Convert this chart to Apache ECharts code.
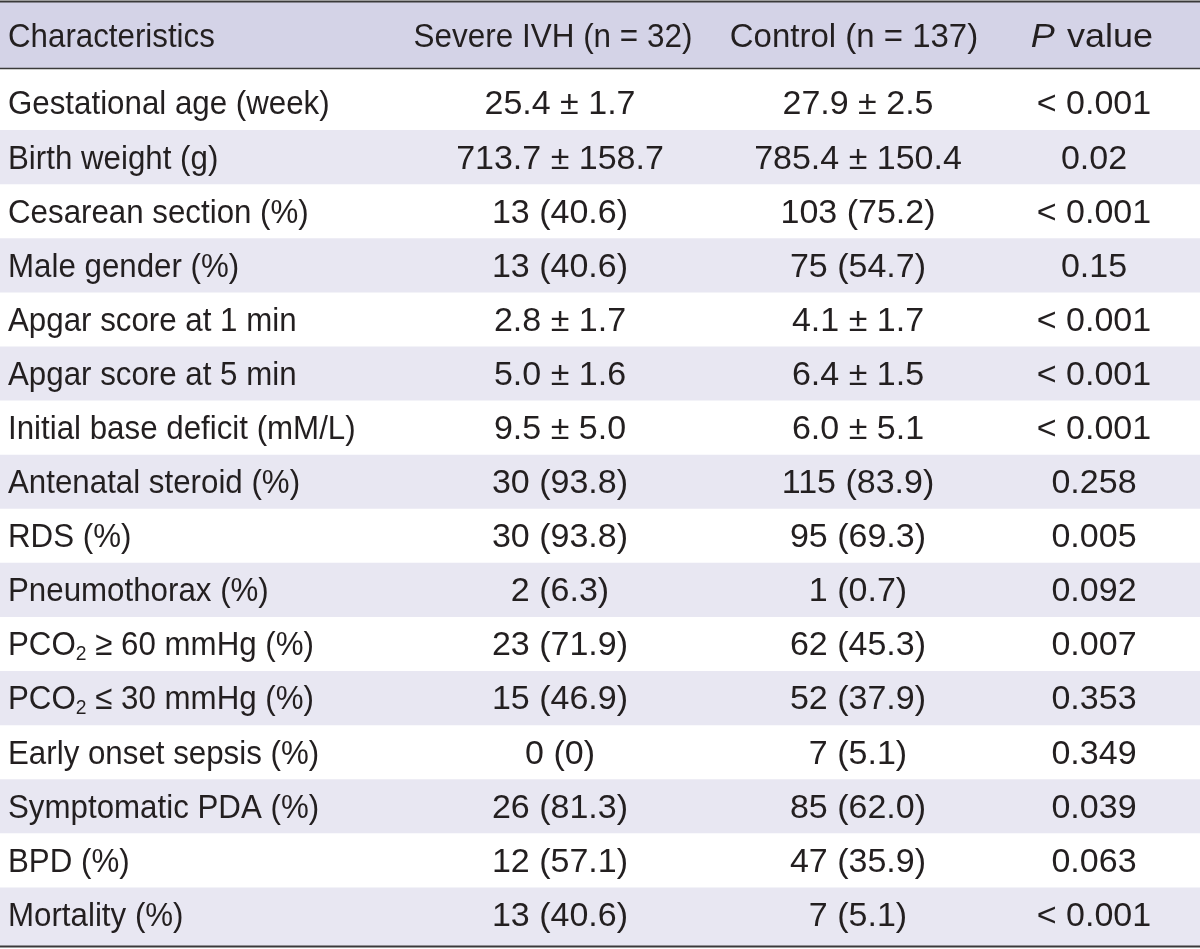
<!DOCTYPE html>
<html>
<head>
<meta charset="utf-8">
<script src="https://cdn.jsdelivr.net/npm/echarts@6/dist/echarts.min.js"></script>
<style>
html,body{margin:0;padding:0;background:#fff;}
#chart{width:1200px;height:949px;}
</style>
</head>
<body>
<div id="chart"></div>
<script>
// ---- Data ----
const headers = ['Characteristics', 'Severe IVH (n = 32)', 'Control (n = 137)', '{i|P} value'];
const characteristics = [
  'Gestational age (week)', 'Birth weight (g)', 'Cesarean section (%)', 'Male gender (%)',
  'Apgar score at 1 min', 'Apgar score at 5 min', 'Initial base deficit (mM/L)',
  'Antenatal steroid (%)', 'RDS (%)', 'Pneumothorax (%)', 'PCO₂ ≥ 60 mmHg (%)',
  'PCO₂ ≤ 30 mmHg (%)', 'Early onset sepsis (%)', 'Symptomatic PDA (%)', 'BPD (%)', 'Mortality (%)'
];
const severeIVH = [
  '25.4 ± 1.7', '713.7 ± 158.7', '13 (40.6)', '13 (40.6)', '2.8 ± 1.7', '5.0 ± 1.6',
  '9.5 ± 5.0', '30 (93.8)', '30 (93.8)', '2 (6.3)', '23 (71.9)', '15 (46.9)',
  '0 (0)', '26 (81.3)', '12 (57.1)', '13 (40.6)'
];
const control = [
  '27.9 ± 2.5', '785.4 ± 150.4', '103 (75.2)', '75 (54.7)', '4.1 ± 1.7', '6.4 ± 1.5',
  '6.0 ± 5.1', '115 (83.9)', '95 (69.3)', '1 (0.7)', '62 (45.3)', '52 (37.9)',
  '7 (5.1)', '85 (62.0)', '47 (35.9)', '7 (5.1)'
];
const pValues = [
  '< 0.001', '0.02', '< 0.001', '0.15', '< 0.001', '< 0.001', '< 0.001', '0.258',
  '0.005', '0.092', '0.007', '0.353', '0.349', '0.039', '0.063', '< 0.001'
];

// ---- Styling ----
const FONT = '"Liberation Sans", Arial, sans-serif';
const FS = 34;
const TXT = '#231f20';
const ALT_BG = '#e8e7f2';
const HEAD_BG = '#d4d3e7';
const LINE = '#3a3a3a';
const colX = [8, 560, 858, 1094];       // column anchors (x-axis units = px)
const headX = [8, 553, 854, 1092];
const colAlign = ['left', 'center', 'center', 'center'];
const colScale = [0.92, 1, 1, 1];
const headScale = [0.92, 0.925, 0.97, 1.06];
const rich = {
  sub: { fontSize: 21, fontFamily: FONT, color: TXT, verticalAlign: 'bottom', lineHeight: 38 },
  i: { fontStyle: 'italic', fontSize: FS, fontFamily: FONT, color: TXT, padding: [0, 2, 0, 0] }
};
function fmt(s) { return s.replace('₂', '{sub|2}'); }

const chart = echarts.init(document.getElementById('chart'), null, { renderer: 'canvas' });

const rowsData = characteristics.map((c, i) => [i]);

const option = {
  backgroundColor: '#fff',
  animation: false,
  grid: { left: 0, right: 0, top: 76, bottom: 7.5 },
  xAxis: { type: 'value', min: 0, max: 1200, show: false },
  yAxis: { type: 'category', data: characteristics, inverse: true, show: false },
  graphic: [
    { type: 'rect', shape: { x: 0, y: 2, width: 1200, height: 66 }, style: { fill: HEAD_BG }, z: 0 },
    { type: 'line', shape: { x1: 0, y1: 1.5, x2: 1200, y2: 1.5 }, style: { stroke: LINE, lineWidth: 2 }, z: 10 },
    { type: 'line', shape: { x1: 0, y1: 68.5, x2: 1200, y2: 68.5 }, style: { stroke: LINE, lineWidth: 1.6 }, z: 10 },
    { type: 'line', shape: { x1: 0, y1: 946.5, x2: 1200, y2: 946.5 }, style: { stroke: LINE, lineWidth: 2 }, z: 10 }
  ].concat(headers.map((h, j) => ({
    type: 'text', z: 10,
    x: headX[j], y: 38, scaleX: headScale[j],
    style: {
      text: h, rich: rich, fontSize: FS, fontFamily: FONT, fill: TXT,
      align: colAlign[j], verticalAlign: 'middle'
    }
  }))),
  series: [{
    type: 'custom',
    coordinateSystem: 'cartesian2d',
    encode: { y: 0 },
    data: rowsData,
    renderItem: function (params, api) {
      const i = api.value(0);
      const c = api.coord([0, i]);
      const h = api.size([0, 1])[1];
      const yc = c[1];
      const children = [];
      if (i % 2 === 1) {
        let top = yc - h / 2, bot = yc + h / 2;
        if (i === characteristics.length - 1) bot = 946;
        children.push({ type: 'rect', shape: { x: 0, y: top, width: 1200, height: bot - top }, style: { fill: ALT_BG } });
      }
      const cells = [characteristics[i], severeIVH[i], control[i], pValues[i]];
      cells.forEach((t, j) => {
        children.push({
          type: 'text',
          x: colX[j], y: yc + 2, scaleX: colScale[j],
          style: {
            text: fmt(t), rich: rich, fontSize: FS, fontFamily: FONT, fill: TXT,
            align: colAlign[j], verticalAlign: 'middle'
          }
        });
      });
      return { type: 'group', children: children };
    }
  }]
};
chart.setOption(option);
</script>
</body>
</html>
